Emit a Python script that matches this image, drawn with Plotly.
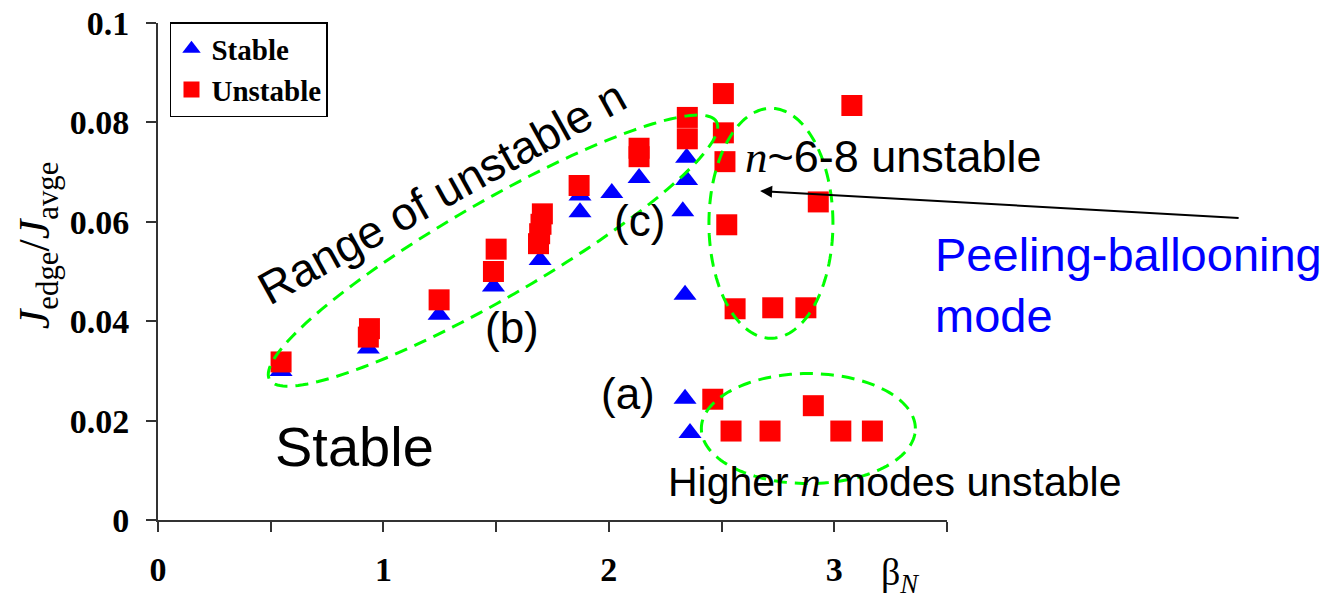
import numpy as np
import plotly.graph_objects as go

# Normalised edge current vs beta_N for the stability scan
stable_beta = [0.546, 0.933, 1.247, 1.488, 1.695, 1.872, 1.872, 2.013, 2.134,
               2.345, 2.345, 2.328, 2.338, 2.338, 2.360]
stable_j = [0.0300, 0.0345, 0.0413, 0.0470, 0.0523, 0.0653, 0.0619, 0.0658, 0.0688,
            0.0729, 0.0684, 0.0621, 0.0453, 0.0244, 0.0175]

unstable_beta = [0.546, 0.933, 0.938, 1.247, 1.488, 1.500, 1.688, 1.693, 1.699, 1.705,
                 1.868, 2.134, 2.134, 2.348, 2.348, 2.508, 2.508, 2.515, 2.523, 2.560,
                 2.727, 2.874, 2.929, 3.078, 2.461, 2.542, 2.715, 2.907, 3.029, 3.169]
unstable_j = [0.0318, 0.0368, 0.0385, 0.0443, 0.0500, 0.0545, 0.0556, 0.0576, 0.0595, 0.0616,
              0.0673, 0.0731, 0.0748, 0.0767, 0.0810, 0.0779, 0.0858, 0.0721, 0.0594, 0.0425,
              0.0427, 0.0427, 0.0640, 0.0834, 0.0243, 0.0179, 0.0179, 0.0230, 0.0179, 0.0179]

x_tickvals = [0, 0.5, 1, 1.5, 2, 2.5, 3, 3.5]
x_ticktext = ["0", "", "1", "", "2", "", "3", ""]
y_tickvals = [0, 0.02, 0.04, 0.06, 0.08, 0.1]
y_ticktext = ["0", "0.02", "0.04", "0.06", "0.08", "0.1"]

W, H = 1328, 600
M = dict(l=158, r=381, t=23, b=80)
X_RANGE = [0, 3.5]
Y_RANGE = [0, 0.1]
px_per_x = (W - M["l"] - M["r"]) / (X_RANGE[1] - X_RANGE[0])
px_per_y = (H - M["t"] - M["b"]) / (Y_RANGE[1] - Y_RANGE[0])

SERIF = "Times New Roman, Liberation Serif, serif"
SANS = "Arial, Liberation Sans, sans-serif"
GREEN = "#00ff00"
AXIS = "#333333"
ITALIC_N = "<span style='font-family:Times New Roman, Liberation Serif, serif;font-style:italic'>n</span>"


def ellipse_path(xc, yc, a_px, b_px, deg, n=160):
    """Closed SVG path of an ellipse given in screen pixels, expressed in data units."""
    t = np.linspace(0, 2 * np.pi, n)
    th = np.radians(deg)
    ux, uy = a_px * np.cos(t), b_px * np.sin(t)
    X = ux * np.cos(th) - uy * np.sin(th)
    Y = ux * np.sin(th) + uy * np.cos(th)
    xs = xc + X / px_per_x
    ys = yc + Y / px_per_y
    pts = [f"{x:.5f},{y:.6f}" for x, y in zip(xs, ys)]
    return "M" + " L".join(pts) + " Z"


fig = go.Figure()
fig.add_trace(go.Scatter(
    x=stable_beta, y=stable_j, mode="markers", name="Stable",
    marker=dict(symbol="triangle-up", size=20, color="#0000ff", line=dict(width=0)),
))
fig.add_trace(go.Scatter(
    x=unstable_beta, y=unstable_j, mode="markers", name="Unstable",
    marker=dict(symbol="square", size=21, color="#ff0000", line=dict(width=0)),
))

dash_line = dict(color=GREEN, width=3, dash="13px,8px")
shapes = [
    dict(type="path", xref="x", yref="y", path=ellipse_path(1.486, 0.0542, 258, 48, 30), line=dash_line),
    dict(type="path", xref="x", yref="y", path=ellipse_path(2.719, 0.0597, 62, 115, 0), line=dash_line),
    dict(type="path", xref="x", yref="y", path=ellipse_path(2.885, 0.0184, 107, 55, 0), line=dash_line),
]

annotations = [
    dict(x=1.26, y=0.0660, text="Range of unstable n", textangle=-29, showarrow=False,
         font=dict(family=SANS, size=46, color="black"), xanchor="center", yanchor="middle"),
    dict(x=2.138, y=0.0603, text="(c)", showarrow=False,
         font=dict(family=SANS, size=44, color="black")),
    dict(x=1.569, y=0.0388, text="(b)", showarrow=False,
         font=dict(family=SANS, size=44, color="black")),
    dict(x=2.085, y=0.0255, text="(a)", showarrow=False,
         font=dict(family=SANS, size=44, color="black")),
    dict(x=0.870, y=0.0147, text="Stable", showarrow=False,
         font=dict(family=SANS, size=56, color="black")),
    dict(x=2.595, y=0.0732, xanchor="left", text=ITALIC_N + "~6-8 unstable",
         showarrow=False, font=dict(family=SANS, size=45, color="black")),
    dict(x=2.255, y=0.0076, xanchor="left", text="Higher " + ITALIC_N + " modes unstable",
         showarrow=False, font=dict(family=SANS, size=41, color="black")),
    dict(x=3.44, y=0.0472, xanchor="left", align="left",
         text="Peeling-ballooning<br>mode", showarrow=False,
         font=dict(family=SANS, size=47, color="#0000ff")),
    # arrow pointing at the n~6-8 cluster
    dict(x=2.671, y=0.0662, text="", showarrow=True, ax=480, ay=27,
         arrowhead=2, arrowsize=1.2, arrowwidth=2, arrowcolor="black"),
    # axis titles
    dict(xref="paper", yref="paper", x=-0.1527, y=0.552, textangle=-90,
         text="<i>J</i><sub>edge</sub>/<i>J</i><sub>avge</sub>", showarrow=False,
         font=dict(family=SERIF, size=44, color="black"), xanchor="center", yanchor="middle"),
    dict(xref="paper", yref="paper", x=0.940, y=-0.110,
         text="β<sub><i>N</i></sub>", showarrow=False,
         font=dict(family=SERIF, size=38, color="black"), xanchor="center", yanchor="middle"),
]

axis_common = dict(
    showline=True, linecolor=AXIS, linewidth=2, mirror=False,
    ticks="outside", ticklen=10, tickwidth=2, tickcolor=AXIS,
    showgrid=False, zeroline=False, automargin=False,
    tickfont=dict(family=SERIF, size=34, color="black", weight="bold"),
)

fig.update_layout(
    width=W, height=H, margin=M,
    plot_bgcolor="white", paper_bgcolor="white",
    xaxis=dict(range=X_RANGE, tickmode="array", tickvals=x_tickvals, ticktext=x_ticktext,
               ticklabelstandoff=8, **axis_common),
    yaxis=dict(range=Y_RANGE, tickmode="array", tickvals=y_tickvals, ticktext=y_ticktext,
               ticklabelstandoff=10, **axis_common),
    shapes=shapes,
    annotations=annotations,
    showlegend=True,
    legend=dict(x=0.0152, y=1.002, xanchor="left", yanchor="top",
                bgcolor="white", bordercolor="black", borderwidth=1.5,
                font=dict(family=SERIF, size=29, color="black", weight="bold"),
                itemwidth=30, tracegroupgap=0),
)

fig.write_html("out.html")
